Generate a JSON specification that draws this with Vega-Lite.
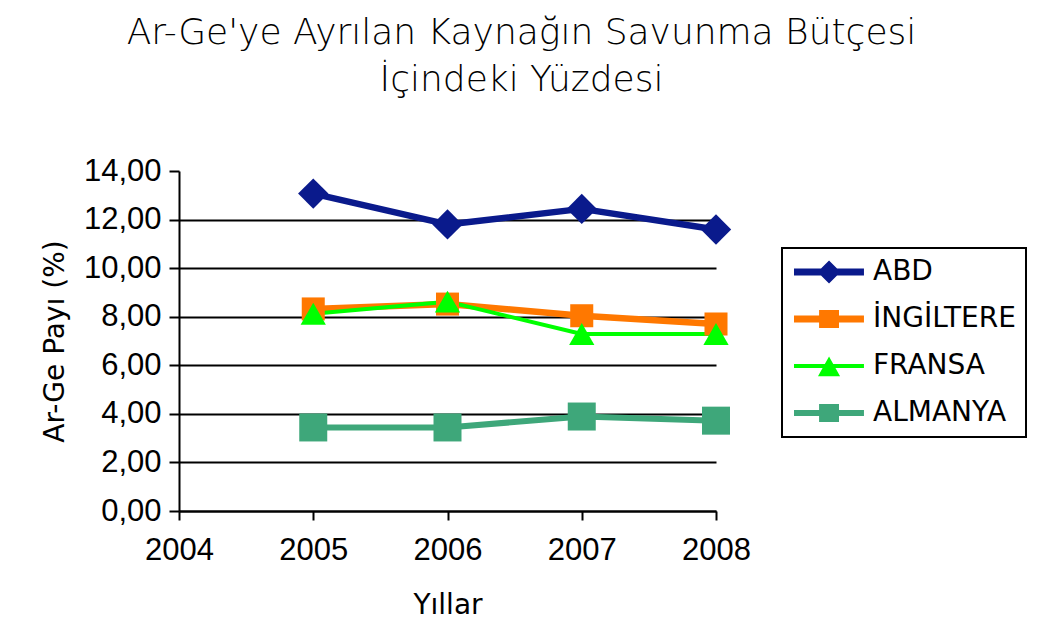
{
  "$schema": "https://vega.github.io/schema/vega-lite/v6.json",
  "width": 537,
  "height": 340,
  "autosize": {"type": "none"},
  "padding": {"left": 179, "top": 171, "right": 322, "bottom": 132},
  "background": "white",
  "title": {
    "text": ["Ar-Ge'ye Ayrılan Kaynağın Savunma Bütçesi", "İçindeki Yüzdesi"],
    "font": "DejaVu Sans",
    "fontSize": 36,
    "fontWeight": 200,
    "color": "black",
    "anchor": "middle",
    "frame": "group",
    "dx": 74,
    "offset": 56,
    "lineHeight": 47
  },
  "data": {
    "values": [
      {"country": "ABD", "year": 2005, "value": 13.07},
      {"country": "ABD", "year": 2006, "value": 11.80},
      {"country": "ABD", "year": 2007, "value": 12.44},
      {"country": "ABD", "year": 2008, "value": 11.59},
      {"country": "İNGİLTERE", "year": 2005, "value": 8.32},
      {"country": "İNGİLTERE", "year": 2006, "value": 8.52},
      {"country": "İNGİLTERE", "year": 2007, "value": 8.04},
      {"country": "İNGİLTERE", "year": 2008, "value": 7.70},
      {"country": "FRANSA", "year": 2005, "value": 8.12},
      {"country": "FRANSA", "year": 2006, "value": 8.62},
      {"country": "FRANSA", "year": 2007, "value": 7.29},
      {"country": "FRANSA", "year": 2008, "value": 7.29},
      {"country": "ALMANYA", "year": 2005, "value": 3.44},
      {"country": "ALMANYA", "year": 2006, "value": 3.44},
      {"country": "ALMANYA", "year": 2007, "value": 3.89},
      {"country": "ALMANYA", "year": 2008, "value": 3.72}
    ]
  },
  "encoding": {
    "x": {
      "field": "year",
      "type": "quantitative",
      "scale": {"domain": [2004, 2008], "nice": false, "zero": false},
      "axis": {
        "title": "Yıllar",
        "values": [2004, 2005, 2006, 2007, 2008],
        "format": "d",
        "grid": false,
        "domainColor": "black",
        "domainWidth": 2,
        "tickColor": "black",
        "tickWidth": 2,
        "tickSize": 9,
        "labelFont": "Liberation Sans",
        "labelFontSize": 31,
        "labelColor": "black",
        "labelPadding": 15,
        "labelFlush": false,
        "titleFont": "DejaVu Sans",
        "titleFontSize": 28,
        "titleFontWeight": "normal",
        "titleColor": "black",
        "titlePadding": 26
      }
    },
    "y": {
      "field": "value",
      "type": "quantitative",
      "scale": {"domain": [0, 14], "nice": false},
      "axis": {
        "title": "Ar-Ge Payı (%)",
        "values": [0, 2, 4, 6, 8, 10, 12, 14],
        "labelExpr": "replace(format(datum.value, '.2f'), '.', ',')",
        "grid": true,
        "gridColor": {"condition": {"test": "datum.value >= 14", "value": "transparent"}, "value": "black"},
        "gridWidth": 2,
        "domainColor": "black",
        "domainWidth": 2,
        "tickColor": "black",
        "tickWidth": 2,
        "tickSize": 10,
        "labelFont": "Liberation Sans",
        "labelFontSize": 31,
        "labelColor": "black",
        "labelPadding": 8,
        "labelFlush": false,
        "titleFont": "DejaVu Sans",
        "titleFontSize": 28,
        "titleFontWeight": "normal",
        "titleColor": "black",
        "titlePadding": 14
      }
    },
    "color": {
      "field": "country",
      "type": "nominal",
      "sort": ["ABD", "İNGİLTERE", "FRANSA", "ALMANYA"],
      "scale": {
        "domain": ["ABD", "İNGİLTERE", "FRANSA", "ALMANYA"],
        "range": ["#0a1a8c", "#ff7800", "#00ff00", "#3ea77a"]
      },
      "legend": {
        "title": null,
        "orient": "none",
        "legendX": 603,
        "legendY": 77,
        "direction": "vertical",
        "padding": 10,
        "strokeColor": "black",
        "fillColor": "white",
        "symbolSize": 576,
        "labelFont": "DejaVu Sans",
        "labelFontSize": 28,
        "labelColor": "black",
        "labelOffset": 53,
        "rowPadding": 19,
        "encode": {
          "legend": {"update": {"strokeWidth": {"value": 2}}},
          "symbols": {
            "update": {
              "shape": {"signal": "datum.value === 'ABD' ? 'M-1,-0.29H4.83V0.29H-1Z M1.92,-0.96L2.88,0L1.92,0.96L0.96,0Z' : datum.value === 'FRANSA' ? 'M-1,-0.17H4.83V0.17H-1Z M1.92,-0.8L2.84,0.85L1.0,0.85Z' : datum.value === 'ALMANYA' ? 'M-1,-0.25H4.83V0.25H-1Z M1.09,-0.75H2.75V0.75H1.09Z' : 'M-1,-0.29H4.83V0.29H-1Z M1.09,-0.75H2.75V0.75H1.09Z'"},
              "fill": {"scale": "color", "field": "value"},
              "stroke": {"value": "transparent"},
              "strokeWidth": {"value": 0},
              "opacity": {"value": 1},
              "fillOpacity": {"value": 1}
            }
          }
        }
      }
    }
  },
  "layer": [
    {
      "mark": {"type": "line", "strokeJoin": "round", "strokeCap": "butt"},
      "encoding": {
        "strokeWidth": {
          "condition": [
            {"test": "datum.country === 'FRANSA'", "value": 4},
            {"test": "datum.country === 'ALMANYA'", "value": 6}
          ],
          "value": 6.5
        }
      }
    },
    {
      "mark": {"type": "point", "filled": true, "opacity": 1, "strokeWidth": 0},
      "encoding": {
        "shape": {
          "condition": [
            {"test": "datum.country === 'ABD'", "value": "diamond"},
            {"test": "datum.country === 'FRANSA'", "value": "triangle-up"}
          ],
          "value": "square"
        },
        "size": {
          "condition": [
            {"test": "datum.country === 'ABD'", "value": 920},
            {"test": "datum.country === 'FRANSA'", "value": 640},
            {"test": "datum.country === 'ALMANYA'", "value": 784}
          ],
          "value": 530
        }
      }
    }
  ],
  "config": {
    "view": {"stroke": null}
  }
}
